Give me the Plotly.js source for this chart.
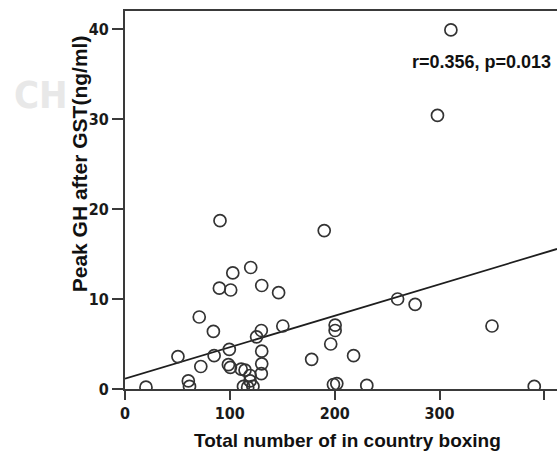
<!DOCTYPE html>
<html>
<head>
<meta charset="utf-8">
<script src="https://cdn.plot.ly/plotly-3.0.1.min.js"></script>
<style>
  html, body { margin: 0; padding: 0; background: #ffffff; }
  #chart { width: 557px; height: 454px; }
</style>
</head>
<body>
<div id="chart"></div>
<script>
// Data
var boxingTotal = [20, 50.5, 60.4, 61.5, 70.8, 72.3, 84.3, 85, 90.6, 90, 100.8, 102.8, 99.5, 98.6, 100.5, 110.8, 114.5, 119.9, 130.4, 146.5, 125.5, 130, 130.4, 130.4, 130, 119.3, 119.3, 113, 117, 122, 150.5, 178, 190, 196.2, 200.4, 200.4, 198.8, 202, 218, 230.6, 260, 276.7, 298, 310.8, 350, 390.3];
var peakGH = [0.2, 3.6, 0.9, 0.3, 8.0, 2.5, 6.4, 3.7, 18.7, 11.2, 11.0, 12.9, 4.4, 2.7, 2.4, 2.2, 2.1, 13.5, 11.5, 10.7, 5.8, 6.5, 4.2, 2.8, 1.7, 1.5, 0.9, 0.3, 0.2, 0.3, 7.0, 3.3, 17.6, 5.0, 6.5, 7.1, 0.5, 0.6, 3.7, 0.4, 10.0, 9.4, 30.4, 39.9, 7.0, 0.3];
var fitX = [0, 412];
var fitY = [1.14, 15.56];
var xTicks = [0, 100, 200, 300, 400];
var yTicks = [0, 10, 20, 30, 40];
var xTitle = "Total number of in country boxing";
var yTitle = "Peak GH after GST(ng/ml)";
var statText = "r=0.356, p=0.013";
var watermark = "CH";

var narrow = "'Liberation Sans Narrow', 'Arial Narrow', 'DejaVu Sans Condensed', 'Liberation Sans', sans-serif";
var sans = "'Liberation Sans', Arial, sans-serif";

var traces = [
  {
    x: fitX, y: fitY, type: 'scatter', mode: 'lines',
    line: { color: '#1e1e1e', width: 1.8 },
    hoverinfo: 'skip', showlegend: false
  },
  {
    x: boxingTotal, y: peakGH, type: 'scatter', mode: 'markers',
    marker: { symbol: 'circle-open', size: 12, color: '#333333', line: { color: '#333333', width: 1.7 } },
    cliponaxis: true, showlegend: false
  }
];

var layout = {
  width: 557, height: 454,
  margin: { l: 125, r: 0, t: 11, b: 65, pad: 0 },
  paper_bgcolor: '#ffffff', plot_bgcolor: '#ffffff',
  showlegend: false,
  xaxis: {
    range: [0, 412], tickvals: xTicks, ticktext: xTicks.map(String),
    showgrid: false, zeroline: false,
    showline: true, linecolor: '#3a3a3a', linewidth: 2, mirror: true,
    ticks: 'outside', ticklen: 9, tickwidth: 2, tickcolor: '#3a3a3a',
    tickfont: { family: narrow, size: 16, color: '#1a1a1a', weight: 'bold' },
    fixedrange: true
  },
  yaxis: {
    range: [0, 42], tickvals: yTicks, ticktext: yTicks.map(String),
    showgrid: false, zeroline: false,
    showline: true, linecolor: '#3a3a3a', linewidth: 2, mirror: false,
    ticks: 'outside', ticklen: 11, tickwidth: 2, tickcolor: '#3a3a3a',
    tickfont: { family: narrow, size: 16, color: '#1a1a1a', weight: 'bold' },
    fixedrange: true
  },
  annotations: [
    {
      text: watermark, xref: 'paper', yref: 'paper', x: -0.262, y: 0.778,
      xanchor: 'left', yanchor: 'middle', showarrow: false,
      font: { family: narrow, size: 38, color: '#e8e8e8', weight: 'bold' }
    },
    {
      text: yTitle, xref: 'paper', yref: 'paper', x: -0.106, y: 0.595,
      xanchor: 'center', yanchor: 'middle', showarrow: false, textangle: -90,
      font: { family: sans, size: 21, color: '#111111', weight: 'bold' }
    },
    {
      text: xTitle, xref: 'paper', yref: 'paper', x: 0.514, y: -0.135,
      xanchor: 'center', yanchor: 'middle', showarrow: false,
      font: { family: sans, size: 19, color: '#111111', weight: 'bold' }
    },
    {
      text: statText, xref: 'paper', yref: 'paper', x: 0.826, y: 0.865,
      xanchor: 'center', yanchor: 'middle', showarrow: false,
      font: { family: sans, size: 18, color: '#111111', weight: 'bold' }
    }
  ]
};

Plotly.newPlot('chart', traces, layout, { displayModeBar: false, staticPlot: true });
</script>
</body>
</html>
